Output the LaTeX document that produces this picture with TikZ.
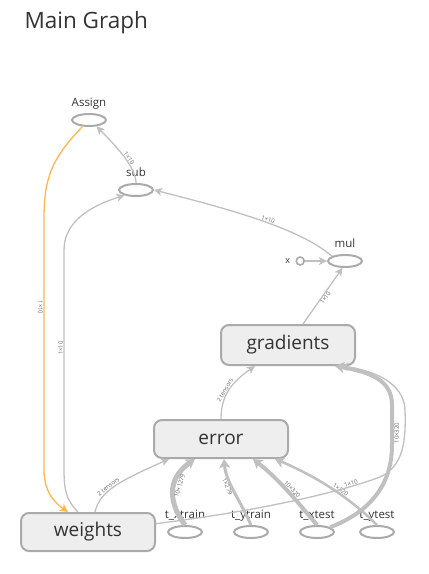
\documentclass[tikz,border=0pt]{standalone}
\usepackage{fontspec}
\setmainfont{Open Sans}
\usepackage{tikz}
\usetikzlibrary{arrows.meta,%
                shapes,positioning}
\definecolor{edgegray}{RGB}{192,192,192}
\definecolor{nodegray}{RGB}{170,170,170}
\definecolor{nodefill}{RGB}{238,238,238}
\definecolor{textgray}{RGB}{51,51,51}
\definecolor{reforange}{RGB}{255,183,77}

\begin{document}
\begin{tikzpicture}[x = 1pt, y = -1pt, node distance = 30 pt]
  \useasboundingbox (0,0) rectangle (429,574);
  \tikzset{BoxStyle/.style   = {shape          = rectangle,
                                draw           = nodegray,
                                fill           = nodefill,
                                line width     = 2pt,
                                rounded corners = 8pt,
                                text           = textgray,
                                inner sep      = 0pt,
                                minimum width  = 134pt,
                                minimum height = 38pt,
                                font           = \fontsize{19}{22}\selectfont}}
  \tikzset{OpStyle/.style    = {shape          = ellipse,
                                draw           = nodegray,
                                fill           = white,
                                line width     = 2pt,
                                inner sep      = 0pt,
                                minimum width  = 34pt,
                                minimum height = 12pt}}
  \tikzset{OpLabel/.style    = {text           = textgray,
                                inner sep      = 0pt,
                                text depth     = 0pt,
                                font           = \fontsize{11.5}{13}\selectfont}}
  \tikzset{EdgeStyle/.style  = {draw           = edgegray,
                                line width     = 1.3pt,
                                -{Stealth[length = 8pt, width = 8pt, inset = 2pt]}}}
  \tikzset{ThickStyle/.style = {EdgeStyle,
                                line width     = #1,
                                -{Stealth[length = 9pt, width = 11pt, inset = 2pt]}}}
  \tikzset{LabelStyle/.style = {font           = \fontsize{6}{7}\selectfont,
                                text           = textgray!75,
                                inner sep      = 0.5pt,
                                sloped}}
     % title
     \node[anchor = base west, text = textgray,
           font = \fontsize{22.5}{26}\selectfont] (title) at (21,28) {Main Graph};

     % main nodes
     \node[BoxStyle](weights) at (88,532) {weights};
     \node[BoxStyle](error)   at (221,439) {error};
     \node[BoxStyle, minimum height = 40pt](gradients) at (288,345) {gradients};

     \node[OpStyle, label = {[OpLabel, label distance = 6pt]above:Assign}](assign) at (89,120) {};
     \node[OpStyle, label = {[OpLabel, label distance = 6pt]above:sub}](sub) at (136,190) {};
     \node[OpStyle, label = {[OpLabel, label distance = 6pt]above:mul}](mul) at (345,261) {};
     \node[circle, draw = nodegray, line width = 1.6pt, minimum size = 8pt, inner sep = 0pt,
           left = 22pt of mul, label = {[OpLabel, label distance = 5pt, font = \fontsize{9}{10}\selectfont]left:x}](xin) {};

     % inputs
     \node[OpStyle, right = 11pt of weights,
           label = {[OpLabel, label distance = 6pt]above:t\_xtrain}](xtrain) {};
     \node[OpStyle, right = of xtrain,
           label = {[OpLabel, label distance = 6pt]above:t\_ytrain}](ytrain) {};
     \node[OpStyle, right = of ytrain,
           label = {[OpLabel, label distance = 6pt]above:t\_xtest}](xtest) {};
     \node[OpStyle, right = 24pt of xtest,
           label = {[OpLabel, label distance = 6pt]above:t\_ytest}](ytest) {};

     % edges
     \draw[EdgeStyle, draw = reforange](assign.225) .. controls (50,160) and (44,180) .. (44,220)
          -- node[LabelStyle, below, pos = 0.35]{1×10} (44,470)
          .. controls (44,495) and (58,505) .. ([xshift = -20pt]weights.north);
     \draw[EdgeStyle]([xshift = -10pt]weights.north) .. controls (66,500) and (64,490) .. (64,468)
          -- node[LabelStyle, above, pos = 0.55]{1×10} (64,250)
          .. controls (64,222) and (90,206) .. (sub.205);
     \draw[EdgeStyle](sub.north) .. controls (136,168) and (118,148)
          .. node[LabelStyle, above, pos = 0.45]{1×10} (assign.-40);
     \draw[EdgeStyle](mul.160) .. controls (300,228) and (225,208)
          .. node[LabelStyle, above, pos = 0.45]{1×10} (sub.east);
     \draw[EdgeStyle](xin) -- (mul.west);
     \draw[EdgeStyle]([xshift = 15pt]gradients.north)
          -- node[LabelStyle, below]{1×10} (mul.250);
     \draw[EdgeStyle](error.north) .. controls (221,395) and (232,382)
          .. node[LabelStyle, above, pos = 0.45]{2 tensors} ([xshift = -33pt]gradients.south);
     \draw[EdgeStyle]([xshift = 7pt]weights.north) .. controls (100,492) and (115,483)
          .. node[LabelStyle, above, pos = 0.45]{2 tensors} ([xshift = -52pt]error.south);

     \draw[ThickStyle = 5pt](xtrain.north) .. controls (170,505) and (165,480)
          .. node[LabelStyle, below, pos = 0.62]{10×1279} ([xshift = -26pt]error.south);
     \draw[ThickStyle = 3pt](ytrain.north) .. controls (240,500) and (226,482)
          .. node[LabelStyle, below, pos = 0.6]{1×279} ([xshift = 3pt]error.south);
     \draw[ThickStyle = 4pt](xtest.north) .. controls (300,505) and (280,480)
          .. node[LabelStyle, above, pos = 0.5]{10×320} ([xshift = 32pt]error.south);
     \draw[ThickStyle = 2.5pt](ytest.north) .. controls (352,500) and (320,478)
          .. node[LabelStyle, above, pos = 0.45]{1×320} ([xshift = 54pt]error.south);
     \draw[ThickStyle = 4pt](xtest.20) .. controls (375,510) and (392,480) .. (392,445)
          -- node[LabelStyle, below, pos = 0.3]{10×320} (392,405)
          .. controls (392,380) and (370,372) .. ([xshift = 47pt]gradients.south);
     \draw[EdgeStyle](weights.7) .. controls (250,512) and (335,494) .. (380,477)
          node[LabelStyle, above, pos = 0.82, sloped = false, rotate = 18]{1×10}
          .. controls (404,466) and (406,440) .. (405,410)
          .. controls (404,382) and (372,370) .. ([xshift = 52pt]gradients.south);
  \end{tikzpicture}
\end{document}
